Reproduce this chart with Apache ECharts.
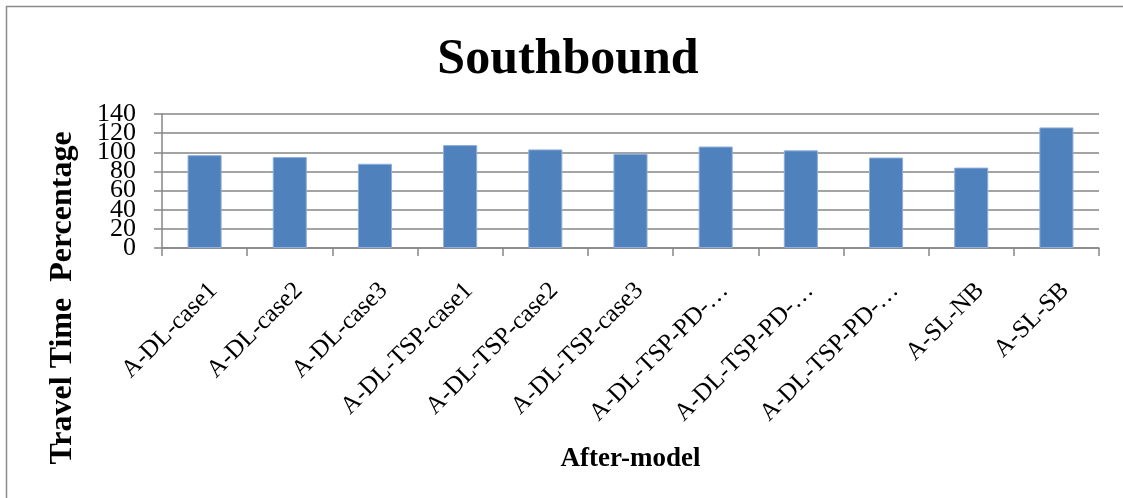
<!DOCTYPE html>
<html>
<head>
<meta charset="utf-8">
<script src="https://cdn.jsdelivr.net/npm/echarts@6/dist/echarts.min.js"></script>
<style>
  html, body { margin: 0; padding: 0; background: #fff; }
  #chart { width: 1123px; height: 498px; }
</style>
</head>
<body>
<div id="chart"></div>
<script>
const categories = [
  'A-DL-case1', 'A-DL-case2', 'A-DL-case3',
  'A-DL-TSP-case1', 'A-DL-TSP-case2', 'A-DL-TSP-case3',
  'A-DL-TSP-PD-\u2026', 'A-DL-TSP-PD-\u2026', 'A-DL-TSP-PD-\u2026',
  'A-SL-NB', 'A-SL-SB'
]
const travelTime = [97, 95, 88, 107.5, 103, 98.5, 106, 102, 94.5, 84, 126]
const yTickValues = [0, 20, 40, 60, 80, 100, 120, 140]

const serif = '"Liberation Serif", "DejaVu Serif", serif'
const gridGray = '#868686'

// the tick labels sit closer than their font height, so they are split over
// two stacked axes to keep echarts from dropping the ones that touch
const labelsA = yTickValues.filter((v, i) => i % 2 === 0)
const labelsB = yTickValues.filter((v, i) => i % 2 === 1)

const yLabelStyle = {
  margin: 26,
  fontFamily: serif,
  fontSize: 26,
  color: '#000'
}

const myChart = echarts.init(document.getElementById('chart'))

myChart.setOption({
  animation: false,
  title: {
    text: 'Southbound',
    left: 563,
    top: 30,
    textAlign: 'center',
    textStyle: {
      fontFamily: serif,
      fontWeight: 'bold',
      fontSize: 50,
      color: '#000'
    }
  },
  graphic: [
    // outer frame: only the top and left edges show in the picture
    {
      type: 'polyline',
      silent: true,
      shape: { points: [[6.5, 498], [6.5, 6.5], [1123, 6.5]] },
      style: { fill: null, stroke: '#8a8a8a', lineWidth: 1.5 }
    },
    {
      type: 'text',
      x: 63,
      y: 298,
      rotation: Math.PI / 2,
      style: {
        text: 'Travel Time  Percentage',
        fontFamily: serif,
        fontWeight: 'bold',
        fontSize: 32,
        fill: '#000',
        align: 'center',
        verticalAlign: 'middle'
      }
    }
  ],
  grid: {
    left: 162,
    right: 24,
    top: 114,
    bottom: 250,
    containLabel: false
  },
  xAxis: {
    type: 'category',
    data: categories,
    name: 'After-model',
    nameLocation: 'middle',
    nameGap: 198,
    nameTextStyle: {
      fontFamily: serif,
      fontWeight: 'bold',
      fontSize: 27,
      color: '#000'
    },
    axisLine: { lineStyle: { color: gridGray, width: 1.5 } },
    axisTick: { show: true, length: 8, lineStyle: { color: gridGray, width: 1.5 } },
    axisLabel: {
      interval: 0,
      rotate: 45,
      margin: 30,
      align: 'right',
      verticalAlign: 'top',
      fontFamily: serif,
      fontSize: 25,
      color: '#000'
    }
  },
  yAxis: [
    {
      type: 'value',
      position: 'left',
      min: yTickValues[0],
      max: yTickValues[yTickValues.length - 1],
      interval: 20,
      axisLine: { show: true, lineStyle: { color: gridGray, width: 1.5 } },
      axisTick: { show: true, length: 8, lineStyle: { color: gridGray, width: 1.5 } },
      axisLabel: Object.assign({ customValues: labelsA }, yLabelStyle),
      splitLine: {
        show: true,
        lineStyle: { color: gridGray, width: 1.5 }
      }
    },
    {
      type: 'value',
      position: 'left',
      offset: 0,
      min: yTickValues[0],
      max: yTickValues[yTickValues.length - 1],
      interval: 20,
      axisLine: { show: false },
      axisTick: { show: false },
      splitLine: { show: false },
      axisLabel: Object.assign({ customValues: labelsB }, yLabelStyle)
    }
  ],
  series: [
    {
      type: 'bar',
      yAxisIndex: 0,
      barWidth: '40%',
      data: travelTime,
      itemStyle: {
        color: '#4F81BD',
        borderColor: '#8FAEDB',
        borderWidth: 1
      }
    }
  ]
})

window.addEventListener('resize', () => {
  myChart.resize()
})
</script>
</body>
</html>
